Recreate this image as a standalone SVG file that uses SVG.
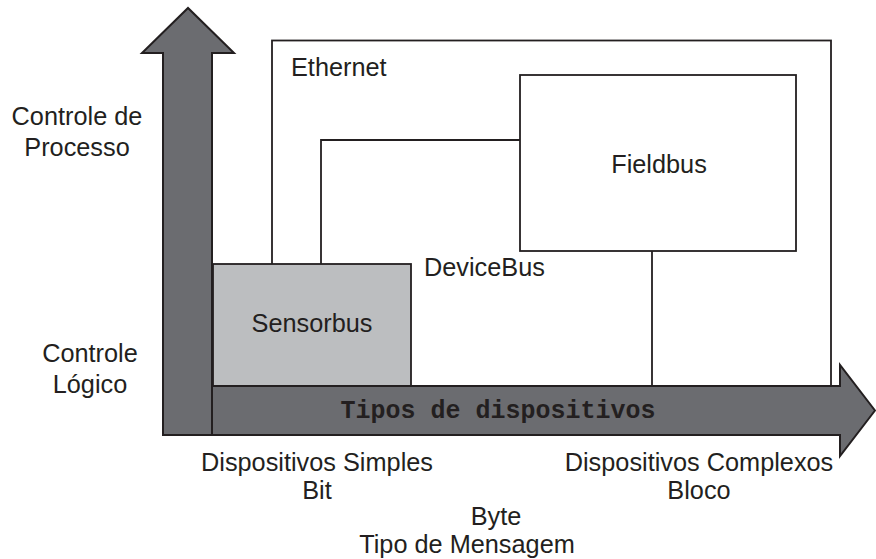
<svg xmlns="http://www.w3.org/2000/svg" width="876" height="559" viewBox="0 0 876 559">
  <style>
    .lbl { font-family: "Liberation Sans", Arial, sans-serif; font-size: 25.3px; fill: #231f20; }
    .mid { text-anchor: middle; }
    .axis { fill: #6b6c70; stroke: #231f20; stroke-width: 2; stroke-linejoin: miter; }
    .box { fill: #ffffff; stroke: #231f20; stroke-width: 1.8; }
    .wire { fill: none; stroke: #231f20; stroke-width: 1.8; }
    .mono { font-family: "Liberation Mono", "Courier New", monospace; font-size: 25px; font-weight: bold; fill: #231f20; text-anchor: middle; }
  </style>
  <rect width="876" height="559" fill="#ffffff"/>

  <!-- Ethernet domain -->
  <g id="ethernet">
    <rect class="box" x="272" y="40.5" width="559" height="346"/>
    <text class="lbl" x="291" y="76">Ethernet</text>
  </g>

  <!-- Fieldbus domain -->
  <g id="fieldbus">
    <rect class="box" x="520" y="75" width="276" height="176"/>
    <text class="lbl mid" x="659" y="173">Fieldbus</text>
  </g>

  <!-- DeviceBus label -->
  <g id="devicebus">
    <text class="lbl" x="424" y="276">DeviceBus</text>
  </g>

  <!-- Links between domains -->
  <g id="connectors">
    <polyline class="wire" points="321,264 321,140 520,140"/>
    <line class="wire" x1="652" y1="251" x2="652" y2="386"/>
  </g>

  <!-- Sensorbus domain -->
  <g id="sensorbus">
    <rect x="213" y="264" width="198" height="122" fill="#bcbec0" stroke="#231f20" stroke-width="1.8"/>
    <text class="lbl mid" x="312" y="332">Sensorbus</text>
  </g>

  <!-- Device-type axis -->
  <g id="axis-x">
    <polygon class="axis" points="163,386 840,386 840,365 875,410.5 840,456 840,435 163,435"/>
    <text class="mono" x="498" y="418">Tipos de dispositivos</text>
  </g>

  <!-- Control-type axis -->
  <g id="axis-y">
    <polygon class="axis" points="163,435 163,53 142,53 188,8 234,53 212,53 212,435"/>
  </g>

  <!-- Axis labels -->
  <g id="labels">
    <text class="lbl mid" x="77" y="125">Controle de</text>
    <text class="lbl mid" x="77" y="156">Processo</text>
    <text class="lbl mid" x="90" y="362">Controle</text>
    <text class="lbl mid" x="90" y="393">Lógico</text>
    <text class="lbl mid" x="317" y="471">Dispositivos Simples</text>
    <text class="lbl mid" x="317" y="499">Bit</text>
    <text class="lbl mid" x="496" y="525">Byte</text>
    <text class="lbl mid" x="699" y="471">Dispositivos Complexos</text>
    <text class="lbl mid" x="699" y="499">Bloco</text>
    <text class="lbl mid" x="467" y="553">Tipo de Mensagem</text>
  </g>
</svg>
